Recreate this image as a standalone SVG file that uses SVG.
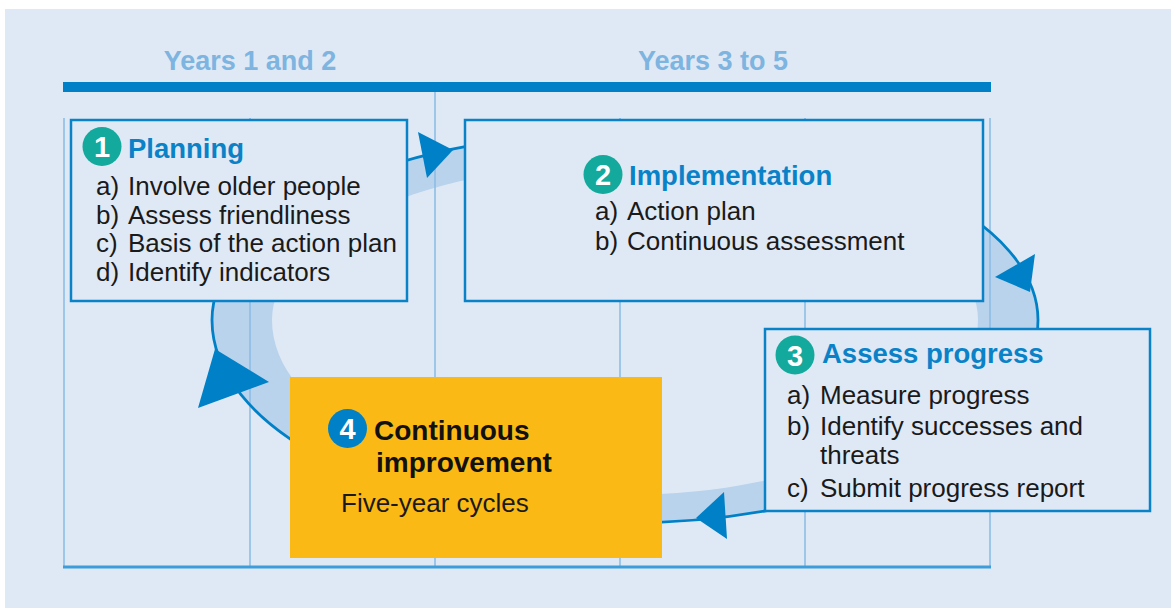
<svg xmlns="http://www.w3.org/2000/svg" width="1171" height="608" viewBox="0 0 1171 608">
  <style>
    .box { fill: #DFE9F5; stroke: #0A82C8; stroke-width: 2.5; }
    .grid { stroke: #8CBDE6; stroke-width: 1.6; fill: none; }
    .head { font-family: "Liberation Sans", Arial, sans-serif; font-weight: bold; font-size: 27px; fill: #7DB4E0; text-anchor: middle; }
    .title { font-family: "Liberation Sans", Arial, sans-serif; font-weight: bold; font-size: 27.5px; fill: #0A82C8; }
    .title4 { font-family: "Liberation Sans", Arial, sans-serif; font-weight: bold; font-size: 28px; fill: #111111; }
    .item { font-family: "Liberation Sans", Arial, sans-serif; font-size: 26px; fill: #1A1A1A; }
    .num { font-family: "Liberation Sans", Arial, sans-serif; font-weight: bold; font-size: 29px; fill: #FFFFFF; text-anchor: middle; }
    .teal { fill: #13A99C; }
    .arrow { fill: #0080C6; }
  </style>

  <rect x="5" y="9" width="1166" height="599" fill="#DFE9F5"/>

  <!-- headers -->
  <g id="header">
    <text class="head" x="250" y="70">Years 1 and 2</text>
    <text class="head" x="713" y="70">Years 3 to 5</text>
  </g>

  <g id="connectors">
    <!-- cycle band -->
    <path fill="#B9D3EC" fill-rule="evenodd" d="M 212 320 A 413 188 0 0 1 1038 320 A 413 203 0 0 1 212 320 Z M 272 320 A 353 157 0 0 1 978 320 A 353 175 0 0 1 272 320 Z"/>
  </g>

  <!-- timeline grid -->
  <g id="grid">
    <line class="grid" x1="64" y1="118" x2="64" y2="567"/>
    <line class="grid" x1="250" y1="118" x2="250" y2="567"/>
    <line class="grid" x1="435" y1="91" x2="435" y2="567"/>
    <line class="grid" x1="620" y1="118" x2="620" y2="567"/>
    <line class="grid" x1="805" y1="118" x2="805" y2="567"/>
    <line class="grid" x1="990" y1="118" x2="990" y2="567"/>
    <line x1="63" y1="567" x2="991" y2="567" stroke="#3D9DDA" stroke-width="3"/>
    <rect x="63" y="82" width="928" height="10" fill="#0080C6"/>
  </g>

  <g id="cycle-arrows">
    <path fill="none" stroke="#0080C6" stroke-width="2.8" d="M 212 320 A 413 188 0 0 1 1038 320 A 413 203 0 0 1 212 320 Z"/>
    <polygon class="arrow" points="418,132 453,150 427,178"/>
    <polygon class="arrow" points="1035,254 1030,292 995,277"/>
    <polygon class="arrow" points="724,492 696,518 727,539"/>
    <polygon class="arrow" points="215,349 269,382 198,408"/>
  </g>

  <g id="node-planning">
    <rect class="box" x="71" y="120" width="336" height="181"/>
    <circle class="teal" cx="102" cy="146.5" r="19.5"/>
    <text class="num" x="102" y="157">1</text>
    <text class="title" x="128" y="158">Planning</text>
    <text class="item" x="96" y="195">a)</text><text class="item" x="128" y="195">Involve older people</text>
    <text class="item" x="96" y="223.5">b)</text><text class="item" x="128" y="223.5">Assess friendliness</text>
    <text class="item" x="96" y="252">c)</text><text class="item" x="128" y="252">Basis of the action plan</text>
    <text class="item" x="96" y="281">d)</text><text class="item" x="128" y="281">Identify indicators</text>
  </g>

  <g id="node-implementation">
    <rect class="box" x="465" y="120" width="518" height="181"/>
    <circle class="teal" cx="603" cy="174.5" r="19.5"/>
    <text class="num" x="603" y="185">2</text>
    <text class="title" x="629" y="185">Implementation</text>
    <text class="item" x="595" y="220">a)</text><text class="item" x="627" y="220">Action plan</text>
    <text class="item" x="595" y="250">b)</text><text class="item" x="627" y="250">Continuous assessment</text>
  </g>

  <g id="node-assess">
    <rect class="box" x="765" y="329" width="385" height="182"/>
    <circle class="teal" cx="795" cy="355" r="19.5"/>
    <text class="num" x="795" y="365.5">3</text>
    <text class="title" x="822" y="363">Assess progress</text>
    <text class="item" x="787" y="404">a)</text><text class="item" x="820" y="404">Measure progress</text>
    <text class="item" x="787" y="435">b)</text><text class="item" x="820" y="435">Identify successes and</text>
    <text class="item" x="820" y="464">threats</text>
    <text class="item" x="787" y="497">c)</text><text class="item" x="820" y="497">Submit progress report</text>
  </g>

  <g id="node-improvement">
    <rect x="290" y="377" width="372" height="181" fill="#FBB915"/>
    <circle cx="347.5" cy="428.5" r="19.5" fill="#0080C6"/>
    <text class="num" x="347.5" y="439">4</text>
    <text class="title4" x="374" y="440">Continuous</text>
    <text class="title4" x="376" y="471.5">improvement</text>
    <text class="item" x="341" y="511.5">Five-year cycles</text>
  </g>
</svg>
